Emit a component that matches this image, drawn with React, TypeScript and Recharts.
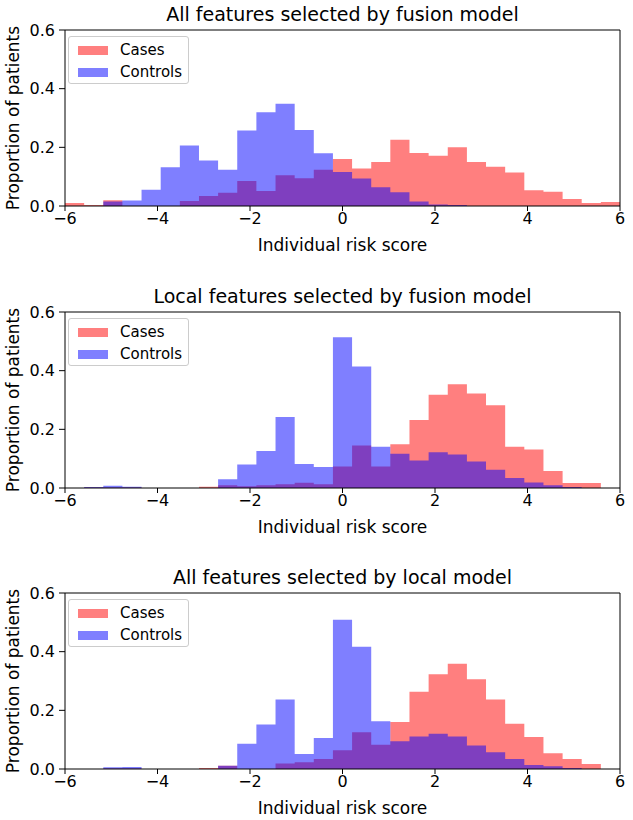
import { ComposedChart, Area, XAxis, YAxis, ReferenceLine } from 'recharts'

// 29 equal bins from -6 to 6 (left edges + final right edge)
const BIN_EDGES = [
  -6, -5.586, -5.172, -4.759, -4.345, -3.931, -3.517, -3.103, -2.69, -2.276,
  -1.862, -1.448, -1.034, -0.621, -0.207, 0.207, 0.621, 1.034, 1.448, 1.862,
  2.276, 2.69, 3.103, 3.517, 3.931, 4.345, 4.759, 5.172, 5.586, 6,
]
const X_TICKS = [-6, -4, -2, 0, 2, 4, 6]
const Y_TICKS = [0, 0.2, 0.4, 0.6]

const TITLES = [
  'All features selected by fusion model',
  'Local features selected by fusion model',
  'All features selected by local model',
]

const CASES_ALL_FUSION = [
  0.01, 0.003, 0.02, 0, 0, 0, 0.017, 0.034, 0.045, 0.085, 0.051, 0.105, 0.095, 0.124, 0.16,
  0.128, 0.15, 0.226, 0.181, 0.171, 0.2, 0.15, 0.134, 0.114, 0.054, 0.049, 0.024, 0.01, 0.014,
]
const CONTROLS_ALL_FUSION = [
  0, 0, 0.015, 0.019, 0.055, 0.132, 0.206, 0.155, 0.124, 0.257, 0.32, 0.349, 0.259, 0.18, 0.116,
  0.094, 0.064, 0.047, 0.015, 0.005, 0.003, 0, 0, 0, 0, 0, 0, 0, 0,
]

const CASES_LOCAL_FUSION = [
  0, 0.002, 0.002, 0.002, 0, 0, 0, 0.004, 0.009, 0.006, 0.009, 0.013, 0.018, 0.013, 0.073,
  0.145, 0.073, 0.149, 0.232, 0.318, 0.354, 0.322, 0.282, 0.141, 0.131, 0.058, 0.017, 0.017, 0,
]
const CONTROLS_LOCAL_FUSION = [
  0, 0.003, 0.008, 0.004, 0, 0, 0, 0, 0.03, 0.08, 0.126, 0.242, 0.082, 0.072, 0.514,
  0.414, 0.141, 0.117, 0.094, 0.122, 0.114, 0.09, 0.062, 0.034, 0.019, 0.009, 0.003, 0, 0,
]

const CASES_ALL_LOCAL = [
  0, 0, 0.002, 0.002, 0, 0, 0, 0.003, 0.011, 0, 0, 0.019, 0.023, 0.034, 0.064,
  0.125, 0.083, 0.16, 0.263, 0.323, 0.359, 0.306, 0.237, 0.154, 0.109, 0.054, 0.034, 0.017, 0,
]
const CONTROLS_ALL_LOCAL = [
  0, 0, 0.006, 0.007, 0, 0, 0, 0, 0.011, 0.086, 0.152, 0.237, 0.051, 0.106, 0.509,
  0.417, 0.163, 0.095, 0.111, 0.12, 0.111, 0.08, 0.057, 0.034, 0.014, 0.009, 0.003, 0, 0,
]

const FONT = '"DejaVu Sans", sans-serif'
const TICK_SIZE = 16
const LABEL_SIZE = 17
const PANEL_TOPS = [0, 282, 563]

function buildRows(cases: number[], controls: number[]) {
  // stepAfter: each edge carries the bin to its right; last edge repeats the last bin
  return BIN_EDGES.map((x, i) => ({
    x,
    cases: cases[Math.min(i, cases.length - 1)],
    controls: controls[Math.min(i, controls.length - 1)],
  }))
}

function fmtX(v: number) {
  return v < 0 ? `\u2212${Math.abs(v)}` : `${v}`
}

function Legend() {
  const items = [
    { label: 'Cases', color: 'rgba(255,0,0,0.5)' },
    { label: 'Controls', color: 'rgba(0,0,255,0.5)' },
  ]
  return (
    <div
      style={{
        position: 'absolute',
        left: 68,
        top: 36,
        width: 121,
        height: 48,
        border: '1px solid #cccccc',
        borderRadius: 3,
        background: 'rgba(255,255,255,0.8)',
        boxSizing: 'border-box',
        fontFamily: FONT,
        fontSize: 15,
      }}
    >
      {items.map((it, i) => (
        <div key={it.label} style={{ position: 'absolute', left: 9, top: 4 + i * 22, height: 18, display: 'flex', alignItems: 'center' }}>
          <span style={{ display: 'inline-block', width: 30, height: 9, background: it.color }} />
          <span style={{ marginLeft: 12, color: '#000', whiteSpace: 'nowrap' }}>{it.label}</span>
        </div>
      ))}
    </div>
  )
}

function Panel({ title, cases, controls, top }: { title: string; cases: number[]; controls: number[]; top: number }) {
  const rows = buildRows(cases, controls)
  const tickStyle = { fill: '#000', fontSize: TICK_SIZE, fontFamily: FONT }
  return (
    <div style={{ position: 'absolute', left: 0, top, width: 633, height: 262 }}>
      <div
        style={{
          position: 'absolute',
          left: 65,
          top: 1,
          width: 555,
          height: 26,
          lineHeight: '26px',
          textAlign: 'center',
          fontFamily: FONT,
          fontSize: 19,
          color: '#000',
          whiteSpace: 'nowrap',
        }}
      >
        {title}
      </div>
      <ComposedChart width={633} height={262} data={rows} margin={{ top: 30, right: 13, bottom: 26, left: 0 }}>
        <XAxis
          dataKey="x"
          type="number"
          domain={[-6, 6]}
          ticks={X_TICKS}
          tickFormatter={fmtX}
          tick={tickStyle}
          tickSize={5}
          tickMargin={2}
          height={30}
          axisLine={{ stroke: '#000' }}
          tickLine={{ stroke: '#000' }}
          label={{
            content: (p: any) => (
              <text
                x={p.viewBox.x + p.viewBox.width / 2}
                y={p.viewBox.y + 39}
                textAnchor="middle"
                dominantBaseline="central"
                fontSize={LABEL_SIZE}
                fontFamily={FONT}
                fill="#000"
              >
                Individual risk score
              </text>
            ),
          }}
        />
        <YAxis
          type="number"
          domain={[0, 0.6]}
          ticks={Y_TICKS}
          tickFormatter={(v: number) => v.toFixed(1)}
          tick={tickStyle}
          tickSize={6}
          tickMargin={4}
          width={65}
          axisLine={{ stroke: '#000' }}
          tickLine={{ stroke: '#000' }}
          label={{
            content: (p: any) => {
              const cx = p.viewBox.x + 13
              const cy = p.viewBox.y + p.viewBox.height / 2
              return (
                <text
                  x={cx}
                  y={cy}
                  transform={`rotate(-90 ${cx} ${cy})`}
                  textAnchor="middle"
                  dominantBaseline="central"
                  fontSize={LABEL_SIZE}
                  fontFamily={FONT}
                  fill="#000"
                >
                  Proportion of patients
                </text>
              )
            },
          }}
        />
        <Area type="stepAfter" dataKey="cases" fill="#ff0000" fillOpacity={0.5} stroke="none" dot={false} activeDot={false} isAnimationActive={false} />
        <Area type="stepAfter" dataKey="controls" fill="#0000ff" fillOpacity={0.5} stroke="none" dot={false} activeDot={false} isAnimationActive={false} />
        <ReferenceLine y={0.6} stroke="#000" />
        <ReferenceLine x={6} stroke="#000" />
      </ComposedChart>
      <Legend />
    </div>
  )
}

export default function App() {
  const panels = [
    { cases: CASES_ALL_FUSION, controls: CONTROLS_ALL_FUSION },
    { cases: CASES_LOCAL_FUSION, controls: CONTROLS_LOCAL_FUSION },
    { cases: CASES_ALL_LOCAL, controls: CONTROLS_ALL_LOCAL },
  ]
  return (
    <div style={{ position: 'absolute', left: 0, top: 0, width: 633, height: 820, background: '#fff' }}>
      {panels.map((p, i) => (
        <Panel key={TITLES[i]} title={TITLES[i]} cases={p.cases} controls={p.controls} top={PANEL_TOPS[i]} />
      ))}
    </div>
  )
}
